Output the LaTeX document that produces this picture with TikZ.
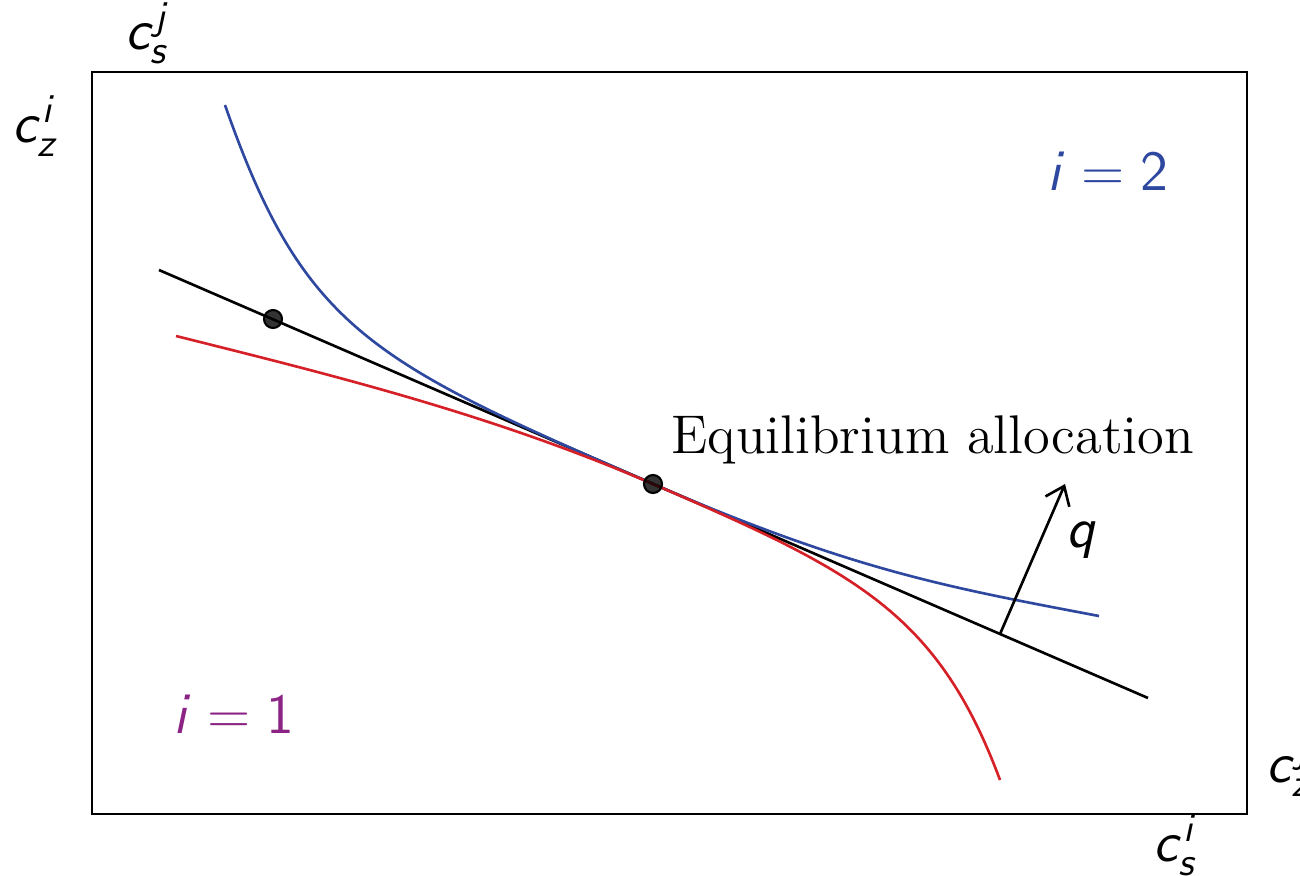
\documentclass[tikz,border=0pt]{standalone}
\usetikzlibrary{arrows.meta}
\DeclareMathAlphabet{\mathsfit}{OT1}{cmss}{m}{sl}
\DeclareMathAlphabet{\mathsfup}{OT1}{cmss}{m}{n}
\definecolor{cblue}{RGB}{46,72,160}
\definecolor{cred}{RGB}{214,32,39}
\definecolor{cpurple}{RGB}{140,36,134}
\newcommand{\biglbl}[1]{\scalebox{1.12}{\fontsize{14}{17}\selectfont #1}}
\tikzset{
  lbl/.style={inner sep=0pt},
  curve/.style={line width=0.75pt},
  dotmark/.style={circle, fill=black, fill opacity=0.8, draw=black, line width=0.6pt, minimum size=0.18cm, inner sep=0pt}
}
\begin{document}
\begin{tikzpicture}[x=0.01cm,y=-0.01cm]
\useasboundingbox (0,0) rectangle (1300,875);
% frame
\coordinate (tl) at (92,72);
\coordinate (br) at (1247,814);
\draw[line width=0.8pt] (tl) rectangle (br);
% axis labels
\node[lbl] (csj) at (148,33) {\biglbl{$\mathsfit{c}_{\mathsfit{s}}^{\mathsfit{j}}$}};
\node[lbl] (czi) at (36,126) {\biglbl{$\mathsfit{c}_{\mathsfit{z}}^{\mathsfit{i}}$}};
\node[lbl, anchor=west] (czj) at (1266,766) {\biglbl{$\mathsfit{c}_{\mathsfit{z}}^{\mathsfit{j}}$}};
\node[lbl] (csi) at (1176,845) {\biglbl{$\mathsfit{c}_{\mathsfit{s}}^{\mathsfit{i}}$}};
% budget line
\coordinate (la) at (159,270);
\coordinate (lb) at (1148,698);
\draw[curve] (la) -- (lb);
% key points
\coordinate (e) at (653,484);
\coordinate (b0) at (225,105);
\coordinate (b1) at (1099,616);
\coordinate (r0) at (176,336);
\coordinate (r1) at (1000,780);
% blue indifference curve
\draw[curve, cblue] (b0) .. controls (304,331) and (373,362) .. (e)
  .. controls (853,570.6) and (949,587.5) .. (b1);
% red indifference curve
\draw[curve, cred] (r0) .. controls (336,376) and (493,414.8) .. (e)
  .. controls (853,570.6) and (937,610.8) .. (r1);
% dots
\node[dotmark] (d1) at (273,319) {};
\node[dotmark] (d2) at (e) {};
% price vector
\coordinate (qa) at (1000,634);
\coordinate (qb) at (1065,484);
\draw[curve, -{Straight Barb[length=0.17cm, width=0.26cm, line width=0.75pt]}] (qa) -- (qb);
\node[lbl] (q) at (1082,540) {\biglbl{$\mathsfit{q}$}};
% labels
\node[lbl, anchor=base west] (eq) at (671,453) {\resizebox{5.22cm}{!}{\fontsize{12}{14}\selectfont Equilibrium allocation}};
\node[lbl, text=cblue, anchor=base] (i2) at (1108,190) {\biglbl{$\mathsfit{i}=\mathsfup{2}$}};
\node[lbl, text=cpurple, anchor=base] (i1) at (234,733) {\biglbl{$\mathsfit{i}=\mathsfup{1}$}};
\end{tikzpicture}
\end{document}
